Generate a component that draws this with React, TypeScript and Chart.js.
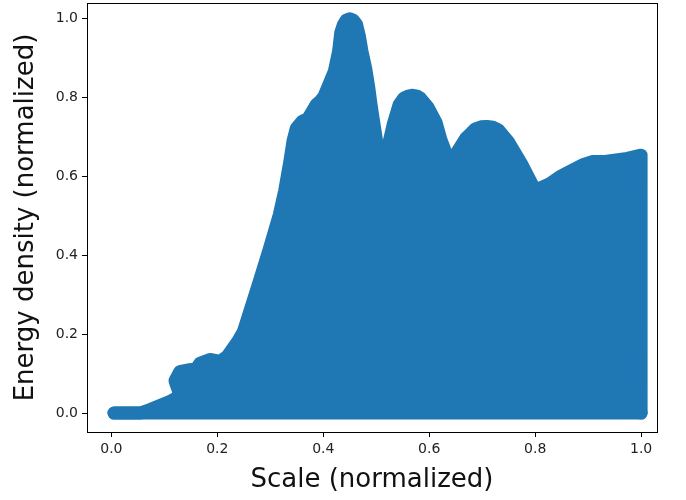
import { useEffect, useRef } from "react";
import { Chart, registerables } from "chart.js";

Chart.register(...registerables);

// Upper envelope of the energy-density cloud (normalized scale vs. normalized energy)
const SCALE = [
  0.005, 0.025, 0.054, 0.073, 0.11, 0.13, 0.12, 0.129, 0.148, 0.16, 0.167, 0.186,
  0.205, 0.218, 0.239, 0.249, 0.279, 0.298, 0.317, 0.327, 0.337, 0.343, 0.349, 0.36,
  0.371, 0.387, 0.394, 0.401, 0.421, 0.429, 0.433, 0.438, 0.443, 0.45, 0.457, 0.463,
  0.468, 0.473, 0.48, 0.486, 0.491, 0.497, 0.51, 0.532, 0.543, 0.552, 0.56, 0.569,
  0.577, 0.583, 0.598, 0.613, 0.622, 0.639, 0.669, 0.679, 0.687, 0.698, 0.709, 0.72,
  0.73, 0.749, 0.774, 0.8, 0.828, 0.847, 0.866, 0.89, 0.909, 0.932, 0.974, 1.0, 1.0,
];
const ENERGY = [
  0.0, 0.0, 0.0, 0.009, 0.029, 0.044, 0.082, 0.105, 0.11, 0.112, 0.126, 0.136,
  0.131, 0.143, 0.183, 0.206, 0.333, 0.416, 0.503, 0.563, 0.639, 0.691, 0.722, 0.74,
  0.747, 0.783, 0.791, 0.802, 0.867, 0.918, 0.965, 0.985, 0.996, 1.0, 0.996, 0.985,
  0.957, 0.918, 0.875, 0.825, 0.774, 0.723, 0.605, 0.732, 0.782, 0.799, 0.804, 0.806,
  0.804, 0.799, 0.775, 0.737, 0.694, 0.633, 0.697, 0.71, 0.721, 0.726, 0.727, 0.725,
  0.719, 0.689, 0.633, 0.565, 0.582, 0.6, 0.613, 0.63, 0.638, 0.638, 0.646, 0.654, 0.0,
];
const X_TICKS = [0, 0.2, 0.4, 0.6, 0.8, 1.0];
const Y_TICKS = [0, 0.2, 0.4, 0.6, 0.8, 1.0];

const BLUE = "#1f77b4";
const MARKER = 13;
const FONT = "DejaVu Sans";

export default function App() {
  const ref = useRef<HTMLCanvasElement>(null);

  useEffect(() => {
    const canvas = ref.current;
    if (!canvas) return;

    const background = {
      id: "background",
      beforeDraw(chart: Chart) {
        const { ctx, width, height } = chart;
        ctx.save();
        ctx.fillStyle = "#ffffff";
        ctx.fillRect(0, 0, width, height);
        ctx.restore();
      },
    };

    const frame = {
      id: "frame",
      afterDatasetsDraw(chart: Chart) {
        const { ctx, chartArea: a } = chart;
        ctx.save();
        ctx.strokeStyle = "#000000";
        ctx.lineWidth = 1;
        ctx.strokeRect(
          Math.round(a.left) + 0.5,
          Math.round(a.top) + 0.5,
          Math.round(a.right - a.left),
          Math.round(a.bottom - a.top)
        );
        ctx.restore();
      },
    };

    const points = SCALE.map((x, i) => ({ x, y: ENERGY[i] }));
    const baseline = [
      { x: SCALE[0], y: 0 },
      { x: SCALE[SCALE.length - 1], y: 0 },
    ];

    const tickFont = { family: FONT, size: 14 };
    const titleFont = { family: FONT, size: 26 };
    const noPadding = (s: any) => {
      s.paddingTop = 0;
      s.paddingBottom = 0;
      s.paddingLeft = 0;
      s.paddingRight = 0;
    };

    const chart = new Chart(canvas, {
      type: "scatter",
      data: {
        datasets: [
          {
            data: points,
            showLine: true,
            fill: "origin",
            backgroundColor: BLUE,
            borderColor: BLUE,
            borderWidth: MARKER,
            borderJoinStyle: "round",
            borderCapStyle: "round",
            pointRadius: 0,
            pointHoverRadius: 0,
            tension: 0,
          },
          {
            data: baseline,
            showLine: true,
            fill: false,
            backgroundColor: BLUE,
            borderColor: BLUE,
            borderWidth: MARKER,
            borderCapStyle: "round",
            pointRadius: 0,
            pointHoverRadius: 0,
          },
        ],
      },
      options: {
        animation: false,
        responsive: false,
        devicePixelRatio: 1,
        events: [],
        layout: { padding: { top: 3, right: 29, left: 0, bottom: 0 } },
        plugins: {
          legend: { display: false },
          tooltip: { enabled: false },
        },
        scales: {
          x: {
            type: "linear",
            min: -0.046,
            max: 1.03,
            afterBuildTicks: (s: any) => {
              s.ticks = X_TICKS.map((v) => ({ value: v }));
            },
            afterFit: (s: any) => {
              s.height = 68;
              noPadding(s);
            },
            ticks: {
              callback: (v: any) => Number(v).toFixed(1),
              font: tickFont,
              color: "#222",
              padding: 4,
              maxRotation: 0,
              autoSkip: false,
            },
            grid: {
              display: true,
              drawOnChartArea: false,
              drawTicks: true,
              tickLength: 5,
              color: "#000",
              lineWidth: 1,
            },
            border: { display: false },
            title: {
              display: true,
              text: "Scale (normalized)",
              font: titleFont,
              color: "#111",
              padding: { top: 0, bottom: 4 },
            },
          },
          y: {
            type: "linear",
            min: -0.048,
            max: 1.04,
            afterBuildTicks: (s: any) => {
              s.ticks = Y_TICKS.map((v) => ({ value: v }));
            },
            afterFit: (s: any) => {
              s.width = 87;
              noPadding(s);
            },
            ticks: {
              callback: (v: any) => Number(v).toFixed(1),
              font: tickFont,
              color: "#222",
              padding: 4,
              autoSkip: false,
            },
            grid: {
              display: true,
              drawOnChartArea: false,
              drawTicks: true,
              tickLength: 5,
              color: "#000",
              lineWidth: 1,
            },
            border: { display: false },
            title: {
              display: true,
              text: "Energy density (normalized)",
              font: titleFont,
              color: "#111",
              padding: { top: 11, bottom: 0 },
            },
          },
        },
      },
      plugins: [background, frame],
    });

    return () => chart.destroy();
  }, []);

  return (
    <div style={{ position: "absolute", left: 0, top: 0, width: 686, height: 500 }}>
      <canvas
        ref={ref}
        width={686}
        height={500}
        style={{ display: "block", width: 686, height: 500 }}
      />
    </div>
  );
}
